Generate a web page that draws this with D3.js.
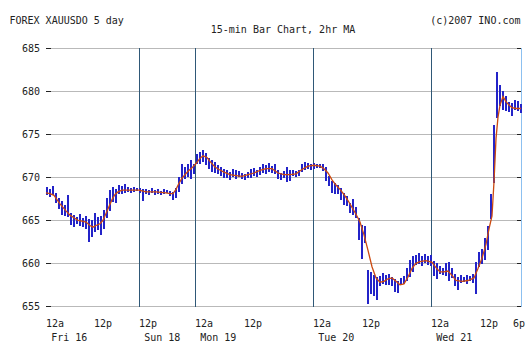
<!DOCTYPE html>
<html><head><meta charset="utf-8">
<script src="https://cdn.jsdelivr.net/npm/d3@7"></script>
<style>
html,body{margin:0;padding:0;background:#fff;}
svg{display:block;}
text{font-family:"DejaVu Sans Mono","Liberation Mono",monospace;font-size:10px;fill:#222;}
</style></head>
<body>
<svg id="chart" width="532" height="356"></svg>
<script>
// ---- data (15-min bars, sampled every 3 slots) ----
const barIndex = d3.range(0, 475, 3);
const highs = [668.9,668.6,669.0,668.2,667.6,667.2,666.8,668.0,665.9,665.6,665.4,665.7,665.3,665.5,665.2,665.0,665.8,665.4,665.5,666.2,
667.6,668.5,668.9,668.6,669.1,669.0,669.2,668.9,668.8,668.9,668.7,668.8,668.6,668.6,668.5,668.7,668.5,668.6,668.4,668.6,
668.5,668.4,668.3,668.8,670.0,671.6,671.2,671.5,672.0,671.6,672.7,673.0,673.2,672.8,672.3,672.0,671.8,671.4,671.2,671.0,
670.8,670.6,671.0,670.9,670.7,670.5,670.4,670.6,671.0,671.1,670.9,671.2,671.6,671.4,671.7,671.3,671.5,670.8,670.5,670.7,
671.2,670.9,670.8,670.7,670.9,671.5,671.8,671.7,671.6,671.7,671.6,671.5,671.6,671.2,670.2,669.6,669.3,669.1,668.7,668.2,
667.8,667.0,667.5,666.6,665.3,664.5,664.3,659.2,659.0,658.6,658.4,658.5,658.9,658.6,658.8,658.4,658.2,657.9,658.3,658.5,
659.4,660.4,660.8,661.0,661.2,660.9,661.1,660.9,661.0,660.3,660.0,659.7,659.5,660.0,660.2,659.4,658.8,658.4,658.6,658.4,
658.6,658.5,658.7,660.2,661.3,661.7,663.0,664.3,668.1,676.1,682.3,680.7,680.0,679.4,678.8,678.6,679.0,678.9,678.5];
const lows = [668.0,667.7,667.9,667.0,666.3,665.6,665.5,665.4,664.5,664.2,664.6,664.3,664.2,664.0,662.5,663.0,663.6,663.9,663.3,664.0,
665.3,666.0,667.2,667.0,668.0,668.1,668.2,668.3,668.2,668.3,668.3,668.2,667.2,668.0,667.9,668.1,667.9,668.0,667.9,668.0,
668.1,667.8,667.4,667.6,668.3,669.3,669.8,670.0,669.8,670.4,671.5,671.6,671.8,671.4,671.0,670.6,670.5,670.3,670.2,670.0,
669.9,669.7,670.1,669.9,670.0,669.8,669.7,669.9,670.0,670.2,670.1,670.3,670.5,670.4,670.6,670.5,670.3,669.8,669.7,669.9,
669.4,669.6,670.1,670.0,670.2,670.6,670.9,671.0,670.9,671.0,671.1,671.0,670.8,669.6,669.0,668.2,668.0,668.1,667.3,666.8,
666.6,665.8,665.6,665.3,662.7,660.6,662.3,655.3,656.5,656.2,655.7,657.3,657.6,657.4,657.5,657.4,656.7,656.5,657.5,657.6,
657.9,658.4,658.9,659.8,659.9,659.7,660.0,659.8,659.7,658.6,658.1,658.8,658.7,658.5,658.0,658.2,657.4,656.9,657.7,657.8,
657.6,657.9,657.7,656.5,659.6,660.0,660.4,661.5,665.2,669.3,677.0,678.2,677.8,677.6,677.6,677.1,677.8,677.7,677.4];

// 2hr moving average
const maIndex = [0,4,8,11,14,17,20,24,28,32,36,40,44,47,50,54,57,60,63,66,69,72,76,80,93,100,110,120,124,127,130,133,136,139,142,146,150,154,157,161,165,169,173,178,184,190,196,202,208,214,220,226,232,238,244,250,256,262,268,274,278,282,286,290,294,298,302,306,310,314,318,322,326,330,334,338,342,346,350,354,358,362,366,370,374,380,386,390,394,398,402,406,410,416,422,428,432,436,440,443,446,448,450,452,454,457,460,463,466,470,475];
const maValue = [668.2,668.1,667.9,667.4,666.9,666.5,666.1,665.6,665.3,665.0,664.9,664.8,664.4,664.2,664.4,664.6,665.0,665.8,666.6,667.4,668.0,668.3,668.5,668.5,668.5,668.3,668.3,668.2,668.1,668.1,668.6,669.3,669.9,670.3,670.7,671.1,671.6,672.2,672.5,672.3,671.7,671.2,670.9,670.6,670.3,670.2,670.1,670.3,670.5,670.8,671.0,671.0,670.5,670.3,670.3,670.4,670.9,671.3,671.4,671.3,671.0,670.5,669.7,669.1,668.6,668.0,667.3,666.5,665.7,664.8,663.3,661.5,659.6,658.3,657.8,657.9,658.2,658.3,657.9,657.5,657.6,658.4,659.4,660.0,660.2,660.3,660.1,659.5,659.0,659.0,659.1,658.6,658.0,657.9,658.0,658.3,659.4,660.6,662.2,664.0,665.5,669.5,674.5,677.0,678.4,679.4,678.8,678.4,678.1,678.0,678.0];

const yTicks = [655,660,665,670,675,680,685];
const xTickIndex = [0,48,93,149,198,267,316,385,434,467];
const xTickLabels = ['12a','12p','12p','12a','12p','12a','12p','12a','12p','6p'];
const dayIndex = [0,93,149,267,385];
const dayLabels = ['Fri 16','Sun 18','Mon 19','Tue 20','Wed 21'];
const dayLineIndex = [93,149,267,385];
const nowIndex = 474.6;

// ---- drawing ----
const svg = d3.select('#chart');
const x = d3.scaleLinear().domain([0,475]).range([46,521]);
const y = d3.scaleLinear().domain([655,685]).range([306.3,48.3]);

svg.append('text').attr('x',9.5).attr('y',24.4).text('FOREX XAUUSDO 5 day');
svg.append('text').attr('x',520.5).attr('y',24.4).attr('text-anchor','end').text('(c)2007 INO.com');
svg.append('text').attr('x',283).attr('y',33.2).attr('text-anchor','middle').text('15-min Bar Chart, 2hr MA');

// horizontal grid
const gy = svg.append('g');
yTicks.forEach(v=>{
  const yy = Math.round(y(v))+0.5;
  gy.append('line').attr('x1',48).attr('x2',521).attr('y1',yy).attr('y2',yy)
    .attr('stroke','#b9b9b9').attr('stroke-width',1).attr('shape-rendering','crispEdges');
  gy.append('line').attr('x1',46).attr('x2',51).attr('y1',yy).attr('y2',yy)
    .attr('stroke','#222').attr('shape-rendering','crispEdges');
  gy.append('line').attr('x1',517).attr('x2',521).attr('y1',yy).attr('y2',yy)
    .attr('stroke','#222').attr('shape-rendering','crispEdges');
  gy.append('text').attr('x',40).attr('y',yy+3.7).attr('text-anchor','end').text(v);
});

// vertical day lines
dayLineIndex.forEach(i=>{
  const xx = Math.round(x(i))+0.5;
  svg.append('line').attr('x1',xx).attr('x2',xx).attr('y1',y(685)).attr('y2',y(655)+0.5)
    .attr('stroke','#2f5877').attr('shape-rendering','crispEdges');
});
{
  const xx = Math.round(x(nowIndex))+0.5;
  svg.append('line').attr('x1',xx).attr('x2',xx).attr('y1',y(685)).attr('y2',y(655)+0.5)
    .attr('stroke','#8cc0f0').attr('shape-rendering','crispEdges');
}

// bars
svg.append('g').selectAll('rect').data(barIndex).join('rect')
  .attr('x',(d)=>Math.round(x(d)))
  .attr('width',2)
  .attr('y',(d,k)=>Math.round(y(highs[k])))
  .attr('height',(d,k)=>Math.max(1,Math.round(y(lows[k])-y(highs[k]))))
  .attr('fill','#2323c8')
  .attr('shape-rendering','crispEdges');

// moving average
const maPts = maIndex.map((d,k)=>[d,maValue[k]]);
svg.append('path').datum(maPts)
  .attr('d',d3.line().x(d=>x(d[0])).y(d=>y(d[1])))
  .attr('fill','none').attr('stroke','#cc4a10').attr('stroke-width',1.3);

// x axis labels
xTickIndex.forEach((i,k)=>{
  svg.append('text').attr('x',x(i)).attr('y',327.3).text(xTickLabels[k]);
});
dayIndex.forEach((i,k)=>{
  svg.append('text').attr('x',x(i)+5.2).attr('y',341).text(dayLabels[k]);
});
</script>
</body></html>
